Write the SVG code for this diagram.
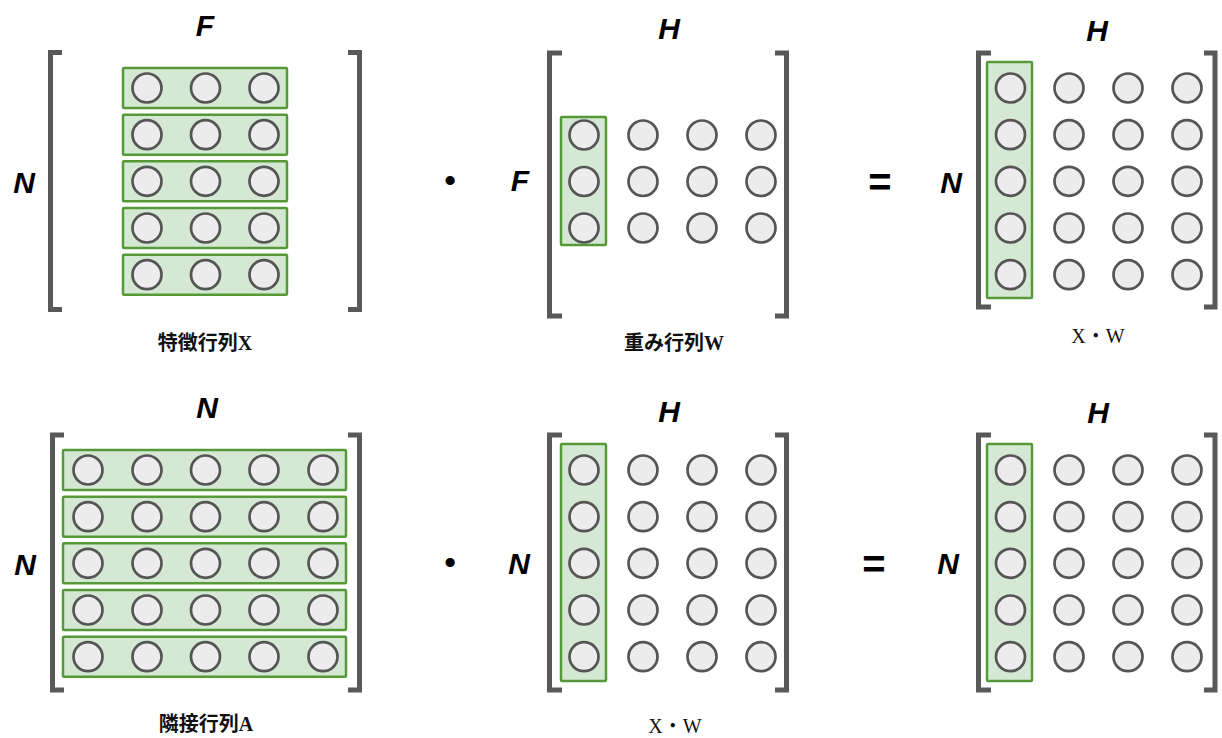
<svg xmlns="http://www.w3.org/2000/svg" width="1222" height="738" viewBox="0 0 1222 738">
<style>
.br{fill:none;stroke:#595959;stroke-width:5}
.gr{fill:#d5e8d4;stroke:#569a38;stroke-width:2.5}
.c{fill:#ececec;stroke:#555555;stroke-width:2.7}
.v{font-family:"Liberation Sans",Arial,sans-serif;font-size:30px;font-weight:bold;font-style:italic;fill:#000;text-anchor:middle}
.op{font-family:"Liberation Sans",Arial,sans-serif;font-weight:bold;fill:#000;text-anchor:middle}
.cap{font-family:"Liberation Serif","Noto Sans CJK JP",serif;font-size:20px;font-weight:bold;fill:#111;text-anchor:middle}
.cap2{font-family:"Liberation Serif","Noto Sans CJK JP",serif;font-size:20px;fill:#111;text-anchor:middle}
</style>
<rect width="1222" height="738" fill="#ffffff"/>

<g id="matrix-X">
<path class="br" d="M62 52.5H50.5V309.5H62"/>
<path class="br" d="M348 52.5H359.5V309.5H348"/>
<rect class="gr" x="123" y="68" width="164" height="40" rx="1"/>
<rect class="gr" x="123" y="114.7" width="164" height="40" rx="1"/>
<rect class="gr" x="123" y="161.3" width="164" height="40" rx="1"/>
<rect class="gr" x="123" y="208" width="164" height="40" rx="1"/>
<rect class="gr" x="123" y="254.7" width="164" height="40" rx="1"/>
<circle class="c" cx="147" cy="88" r="14.5"/><circle class="c" cx="205.5" cy="88" r="14.5"/><circle class="c" cx="264" cy="88" r="14.5"/>
<circle class="c" cx="147" cy="134.7" r="14.5"/><circle class="c" cx="205.5" cy="134.7" r="14.5"/><circle class="c" cx="264" cy="134.7" r="14.5"/>
<circle class="c" cx="147" cy="181.3" r="14.5"/><circle class="c" cx="205.5" cy="181.3" r="14.5"/><circle class="c" cx="264" cy="181.3" r="14.5"/>
<circle class="c" cx="147" cy="228" r="14.5"/><circle class="c" cx="205.5" cy="228" r="14.5"/><circle class="c" cx="264" cy="228" r="14.5"/>
<circle class="c" cx="147" cy="274.7" r="14.5"/><circle class="c" cx="205.5" cy="274.7" r="14.5"/><circle class="c" cx="264" cy="274.7" r="14.5"/>
<text class="v" x="205" y="36">F</text>
<text class="v" x="24" y="193">N</text>
<text class="cap" x="205" y="350">特徴行列X</text>
</g>

<g id="op-dot-1"><text class="op" x="450" y="191" font-size="32">•</text></g>

<g id="matrix-W">
<path class="br" d="M562 53H549.5V316H562"/>
<path class="br" d="M775 53H786.5V316H775"/>
<rect class="gr" x="561" y="117" width="45" height="128" rx="1"/>
<circle class="c" cx="584" cy="135" r="14.5"/><circle class="c" cx="643" cy="135" r="14.5"/><circle class="c" cx="702" cy="135" r="14.5"/><circle class="c" cx="761" cy="135" r="14.5"/>
<circle class="c" cx="584" cy="181.5" r="14.5"/><circle class="c" cx="643" cy="181.5" r="14.5"/><circle class="c" cx="702" cy="181.5" r="14.5"/><circle class="c" cx="761" cy="181.5" r="14.5"/>
<circle class="c" cx="584" cy="228" r="14.5"/><circle class="c" cx="643" cy="228" r="14.5"/><circle class="c" cx="702" cy="228" r="14.5"/><circle class="c" cx="761" cy="228" r="14.5"/>
<text class="v" x="669" y="39">H</text>
<text class="v" x="520" y="191">F</text>
<text class="cap" x="674" y="350">重み行列W</text>
</g>

<g id="op-eq-1"><text class="op" x="880" y="196" font-size="40">=</text></g>

<g id="matrix-XW">
<path class="br" d="M991 53H978.5V307H991"/>
<path class="br" d="M1204 53H1215V307H1204"/>
<rect class="gr" x="987" y="62" width="45" height="236" rx="1"/>
<circle class="c" cx="1010.5" cy="88" r="14.5"/><circle class="c" cx="1069" cy="88" r="14.5"/><circle class="c" cx="1128" cy="88" r="14.5"/><circle class="c" cx="1187" cy="88" r="14.5"/>
<circle class="c" cx="1010.5" cy="134.7" r="14.5"/><circle class="c" cx="1069" cy="134.7" r="14.5"/><circle class="c" cx="1128" cy="134.7" r="14.5"/><circle class="c" cx="1187" cy="134.7" r="14.5"/>
<circle class="c" cx="1010.5" cy="181.3" r="14.5"/><circle class="c" cx="1069" cy="181.3" r="14.5"/><circle class="c" cx="1128" cy="181.3" r="14.5"/><circle class="c" cx="1187" cy="181.3" r="14.5"/>
<circle class="c" cx="1010.5" cy="228" r="14.5"/><circle class="c" cx="1069" cy="228" r="14.5"/><circle class="c" cx="1128" cy="228" r="14.5"/><circle class="c" cx="1187" cy="228" r="14.5"/>
<circle class="c" cx="1010.5" cy="274.7" r="14.5"/><circle class="c" cx="1069" cy="274.7" r="14.5"/><circle class="c" cx="1128" cy="274.7" r="14.5"/><circle class="c" cx="1187" cy="274.7" r="14.5"/>
<text class="v" x="1097" y="41">H</text>
<text class="v" x="951" y="193">N</text>
<text class="cap2" x="1098" y="343">X・W</text>
</g>

<g id="matrix-A">
<path class="br" d="M64 435H52.5V690H64"/>
<path class="br" d="M348 435H359.5V690H348"/>
<rect class="gr" x="63" y="450" width="283" height="40" rx="1"/>
<rect class="gr" x="63" y="496.7" width="283" height="40" rx="1"/>
<rect class="gr" x="63" y="543.3" width="283" height="40" rx="1"/>
<rect class="gr" x="63" y="590" width="283" height="40" rx="1"/>
<rect class="gr" x="63" y="636.7" width="283" height="40" rx="1"/>
<circle class="c" cx="88" cy="470" r="14.5"/><circle class="c" cx="147" cy="470" r="14.5"/><circle class="c" cx="205.5" cy="470" r="14.5"/><circle class="c" cx="264" cy="470" r="14.5"/><circle class="c" cx="323" cy="470" r="14.5"/>
<circle class="c" cx="88" cy="516.7" r="14.5"/><circle class="c" cx="147" cy="516.7" r="14.5"/><circle class="c" cx="205.5" cy="516.7" r="14.5"/><circle class="c" cx="264" cy="516.7" r="14.5"/><circle class="c" cx="323" cy="516.7" r="14.5"/>
<circle class="c" cx="88" cy="563.3" r="14.5"/><circle class="c" cx="147" cy="563.3" r="14.5"/><circle class="c" cx="205.5" cy="563.3" r="14.5"/><circle class="c" cx="264" cy="563.3" r="14.5"/><circle class="c" cx="323" cy="563.3" r="14.5"/>
<circle class="c" cx="88" cy="610" r="14.5"/><circle class="c" cx="147" cy="610" r="14.5"/><circle class="c" cx="205.5" cy="610" r="14.5"/><circle class="c" cx="264" cy="610" r="14.5"/><circle class="c" cx="323" cy="610" r="14.5"/>
<circle class="c" cx="88" cy="656.7" r="14.5"/><circle class="c" cx="147" cy="656.7" r="14.5"/><circle class="c" cx="205.5" cy="656.7" r="14.5"/><circle class="c" cx="264" cy="656.7" r="14.5"/><circle class="c" cx="323" cy="656.7" r="14.5"/>
<text class="v" x="207" y="418">N</text>
<text class="v" x="25" y="575">N</text>
<text class="cap" x="206" y="731">隣接行列A</text>
</g>

<g id="op-dot-2"><text class="op" x="450" y="573" font-size="32">•</text></g>

<g id="matrix-XW-2">
<path class="br" d="M562 435H549.5V690H562"/>
<path class="br" d="M775 435H786.5V690H775"/>
<rect class="gr" x="561" y="444" width="45" height="237" rx="1"/>
<circle class="c" cx="584" cy="470" r="14.5"/><circle class="c" cx="643" cy="470" r="14.5"/><circle class="c" cx="702" cy="470" r="14.5"/><circle class="c" cx="761" cy="470" r="14.5"/>
<circle class="c" cx="584" cy="516.7" r="14.5"/><circle class="c" cx="643" cy="516.7" r="14.5"/><circle class="c" cx="702" cy="516.7" r="14.5"/><circle class="c" cx="761" cy="516.7" r="14.5"/>
<circle class="c" cx="584" cy="563.3" r="14.5"/><circle class="c" cx="643" cy="563.3" r="14.5"/><circle class="c" cx="702" cy="563.3" r="14.5"/><circle class="c" cx="761" cy="563.3" r="14.5"/>
<circle class="c" cx="584" cy="610" r="14.5"/><circle class="c" cx="643" cy="610" r="14.5"/><circle class="c" cx="702" cy="610" r="14.5"/><circle class="c" cx="761" cy="610" r="14.5"/>
<circle class="c" cx="584" cy="656.7" r="14.5"/><circle class="c" cx="643" cy="656.7" r="14.5"/><circle class="c" cx="702" cy="656.7" r="14.5"/><circle class="c" cx="761" cy="656.7" r="14.5"/>
<text class="v" x="669" y="422">H</text>
<text class="v" x="519" y="574">N</text>
<text class="cap2" x="675" y="733">X・W</text>
</g>

<g id="op-eq-2"><text class="op" x="874" y="578" font-size="40">=</text></g>

<g id="matrix-result">
<path class="br" d="M991 435H978.5V690H991"/>
<path class="br" d="M1204 435H1215V690H1204"/>
<rect class="gr" x="987" y="444" width="45" height="237" rx="1"/>
<circle class="c" cx="1010.5" cy="470" r="14.5"/><circle class="c" cx="1069" cy="470" r="14.5"/><circle class="c" cx="1128" cy="470" r="14.5"/><circle class="c" cx="1187" cy="470" r="14.5"/>
<circle class="c" cx="1010.5" cy="516.7" r="14.5"/><circle class="c" cx="1069" cy="516.7" r="14.5"/><circle class="c" cx="1128" cy="516.7" r="14.5"/><circle class="c" cx="1187" cy="516.7" r="14.5"/>
<circle class="c" cx="1010.5" cy="563.3" r="14.5"/><circle class="c" cx="1069" cy="563.3" r="14.5"/><circle class="c" cx="1128" cy="563.3" r="14.5"/><circle class="c" cx="1187" cy="563.3" r="14.5"/>
<circle class="c" cx="1010.5" cy="610" r="14.5"/><circle class="c" cx="1069" cy="610" r="14.5"/><circle class="c" cx="1128" cy="610" r="14.5"/><circle class="c" cx="1187" cy="610" r="14.5"/>
<circle class="c" cx="1010.5" cy="656.7" r="14.5"/><circle class="c" cx="1069" cy="656.7" r="14.5"/><circle class="c" cx="1128" cy="656.7" r="14.5"/><circle class="c" cx="1187" cy="656.7" r="14.5"/>
<text class="v" x="1098" y="423">H</text>
<text class="v" x="948" y="574">N</text>
</g>

<g id="connectors"/>
</svg>
